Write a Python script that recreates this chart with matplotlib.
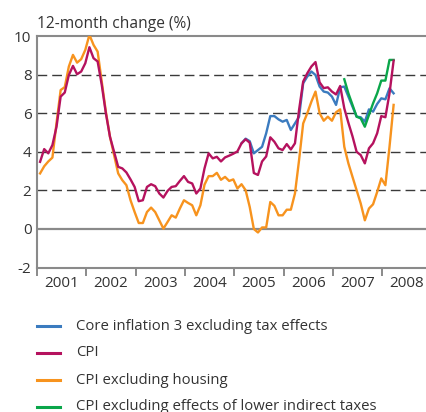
import numpy as np
import matplotlib
matplotlib.use("Agg")
import matplotlib.pyplot as plt
from matplotlib.lines import Line2D

plt.rcParams['font.family'] = ['Open Sans', 'DejaVu Sans']
plt.rcParams['axes.unicode_minus'] = False

# monthly data, Jan 2001 .. Mar 2008 (12-month change, %)
months = np.arange(87)

cpi = [3.48, 4.14, 3.92, 4.35, 5.3, 6.86, 7.07, 7.98, 8.45, 8.02, 8.16, 8.59,
       9.42, 8.85, 8.68, 7.47, 6.0, 4.78, 4.0, 3.22, 3.14, 2.93, 2.57, 2.18,
       1.44, 1.49, 2.18, 2.32, 2.22, 1.84, 1.63, 1.97, 2.18, 2.22, 2.49, 2.74,
       2.44, 2.36, 1.84, 2.10, 3.14, 3.92, 3.66, 3.74, 3.50, 3.71, 3.80, 3.90,
       4.02, 4.44, 4.65, 4.47, 2.90, 2.80, 3.50, 3.76, 4.75, 4.52, 4.18, 4.09,
       4.40, 4.12, 4.44, 6.17, 7.64, 8.07, 8.42, 8.65, 7.60, 7.30, 7.34, 7.12,
       6.97, 7.41, 6.25, 5.50, 4.80, 4.00, 3.83, 3.40, 4.18, 4.44, 4.96, 5.85,
       5.79, 7.03, 8.72]

cpi_ex_housing = [2.88, 3.25, 3.50, 3.70, 5.50, 7.20, 7.35, 8.42, 9.02, 8.62, 8.80, 9.28,
                  10.06, 9.54, 9.19, 7.64, 6.08, 4.78, 3.83, 2.88, 2.53, 2.27, 1.49, 0.88,
                  0.31, 0.31, 0.88, 1.11, 0.88, 0.45, 0.02, 0.36, 0.71, 0.59, 1.06, 1.49,
                  1.35, 1.23, 0.71, 1.23, 2.30, 2.74, 2.74, 2.91, 2.55, 2.70, 2.49, 2.57,
                  2.10, 2.32, 2.01, 1.14, 0.0, -0.18, 0.08, 0.08, 1.40, 1.20, 0.71, 0.71,
                  1.0, 1.0, 1.84, 3.57, 5.47, 6.0, 6.6, 7.12, 6.0, 5.61, 5.82, 5.61,
                  6.05, 6.20, 4.26, 3.40, 2.70, 2.01, 1.32, 0.45, 1.06, 1.28, 1.92, 2.62,
                  2.27, 4.26, 6.43]

# starts Feb 2005
core3 = [4.44, 4.68, 4.55, 3.92, 4.09, 4.26, 4.96, 5.85, 5.85, 5.68, 5.56,
         5.65, 5.13, 5.47, 5.82, 7.55, 7.90, 8.16, 7.98, 7.38, 7.12, 7.07, 6.86,
         6.43, 7.34, 7.38, 6.86, 6.34, 5.82, 5.79, 5.56, 6.20, 6.08, 6.48, 6.77,
         6.72, 7.29, 7.03]

# starts Mar 2007
lower_tax = [7.76, 7.03, 6.43, 5.82, 5.73, 5.30, 5.91, 6.51, 7.03, 7.69, 7.69, 8.76, 8.76]

labels = ['Core inflation 3 excluding tax effects', 'CPI', 'CPI excluding housing',
          'CPI excluding effects of lower indirect taxes']
colors = ['#3b7bbf', '#b5125e', '#f7931e', '#0aa64a']
years = list(range(2001, 2009))

t = 2001 + (months + 0.75) / 12
t_core = t[len(t) - len(core3):]
t_tax = t[len(t) - len(lower_tax):]

fig = plt.figure(figsize=(4.26, 4.12), dpi=100)
ax = fig.add_axes([37 / 426, 1 - 267.6 / 412, 389 / 426, (267.6 - 36) / 412])

for v in [2, 4, 6, 8]:
    ax.axhline(v, color='#3a3a3a', lw=1.0, ls=(0, (7, 3.6)), zorder=1)
ax.axhline(0, color='#8a8a8a', lw=1.6, zorder=1)

lw = 1.7
ax.plot(t, cpi_ex_housing, color=colors[2], lw=lw, zorder=3)
ax.plot(t_core, core3, color=colors[0], lw=lw, zorder=4)
ax.plot(t_tax, lower_tax, color=colors[3], lw=lw, zorder=5)
ax.plot(t, cpi, color=colors[1], lw=lw, zorder=6)

ax.set_ylim(-2, 10)
ax.set_xlim(2001, 2001 + 389 / 49.33)
ax.set_yticks(range(-2, 11, 2))
ax.set_xticks(years)
ax.set_xticks([y + 0.5 for y in years], minor=True)
ax.set_xticklabels([])
ax.set_xticklabels([str(y) for y in years], minor=True)
ax.tick_params(axis='x', which='major', direction='out', length=5.5, width=1.4, color='#8a8a8a')
ax.tick_params(axis='x', which='minor', length=0, pad=6, labelsize=11, labelcolor='#333333')
ax.tick_params(axis='y', length=0, pad=4, labelsize=11, labelcolor='#333333')

for s in ['left', 'top', 'bottom']:
    ax.spines[s].set_color('#8a8a8a')
    ax.spines[s].set_linewidth(1.5)
ax.spines['right'].set_visible(False)

fig.text(37 / 426, 1 - 28.3 / 412, '12-month change (%)', fontsize=11.2,
         color='#333333', ha='left', va='baseline')

# legend
rows = [326, 352.7, 380, 407]
for lab, c, y in zip(labels, colors, rows):
    fig.add_artist(Line2D([37 / 426, 60 / 426], [1 - y / 412] * 2, color=c, lw=2.2,
                          transform=fig.transFigure))
    fig.text(76 / 426, 1 - y / 412, lab, fontsize=10.7, color='#333333',
             ha='left', va='center')

fig.savefig('out.png', dpi=100)
